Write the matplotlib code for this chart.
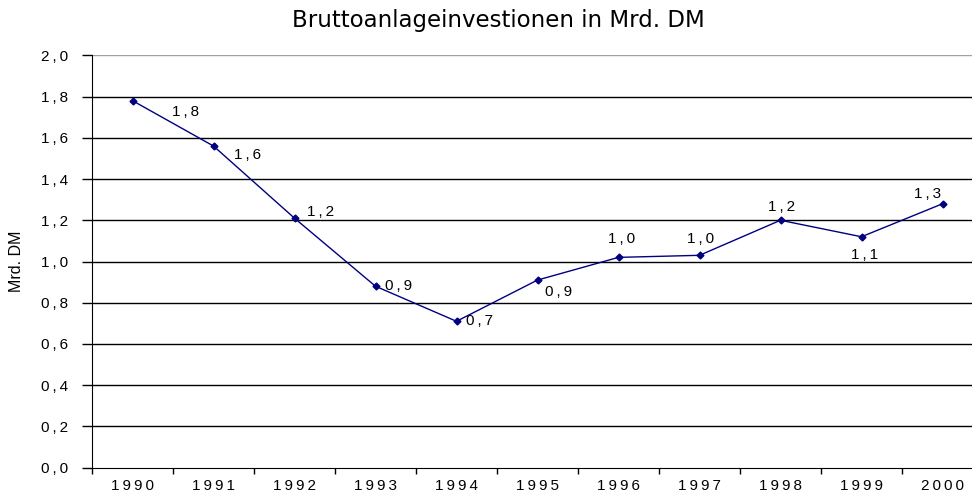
import matplotlib
matplotlib.use('Agg')
import matplotlib.pyplot as plt
import numpy as np

plt.rcParams['font.family'] = ['Liberation Sans', 'DejaVu Sans']

# Data
years = ['1990', '1991', '1992', '1993', '1994', '1995', '1996', '1997', '1998', '1999', '2000']
values = [1.78, 1.56, 1.21, 0.88, 0.71, 0.91, 1.02, 1.03, 1.20, 1.12, 1.28]
y_ticks = [0.0, 0.2, 0.4, 0.6, 0.8, 1.0, 1.2, 1.4, 1.6, 1.8, 2.0]

# label offsets (pixels) for each data label
label_offsets = [(53, -11), (34, -9), (26, 6), (23, 0), (23, 0), (21, -12),
                 (3, 18), (1, 16), (1, 13), (3, -18), (-15, 10)]


def spaced(s):
    # Excel-like letter spacing
    return '\u2009'.join(s)


fig = plt.figure(figsize=(9.72, 4.99), dpi=100)
ax = fig.add_axes([92 / 972, 31.3 / 499, 891 / 972, 412.4 / 499])

x = np.arange(len(years))
ax.plot(x, values, '-', color='#000080', linewidth=1, marker='D', markersize=3.5,
        markerfacecolor='#000080', markeredgecolor='#000080', zorder=3, clip_on=False)

for xi, v, (dx, dy) in zip(x, values, label_offsets):
    lbl = f'{v:.1f}'.replace('.', ',')
    ax.annotate(spaced(lbl), (xi, v), textcoords='offset pixels', xytext=(dx, dy),
                ha='center', va='center', fontsize=11, color='black')

ax.set_xlim(-0.5, len(years) - 0.5)
ax.set_ylim(0, 2.0)

# y axis
ax.set_yticks(y_ticks)
ax.set_yticklabels([spaced(f'{t:.1f}'.replace('.', ',')) for t in y_ticks], fontsize=11)
ax.tick_params(axis='y', direction='out', length=7, width=1, pad=10, color='black')
for t in y_ticks[1:]:
    ax.axhline(t, color='black' if t < 2.0 else '#a0a0a0', linewidth=1, zorder=1)

# x axis: ticks at boundaries, labels at centers
ax.set_xticks(np.arange(-0.5, len(years), 1.0))
ax.set_xticklabels([])
ax.set_xticks(x, minor=True)
ax.set_xticklabels([spaced(y) for y in years], minor=True, fontsize=11)
ax.tick_params(axis='x', which='major', direction='out', length=4, width=1, color='black')
ax.tick_params(axis='x', which='minor', length=0, pad=8)

for side in ['top', 'right']:
    ax.spines[side].set_visible(False)
ax.spines['left'].set_color('black')
ax.spines['bottom'].set_color('black')

ax.set_ylabel('Mrd. DM', fontsize=11.5)
ax.yaxis.set_label_coords(-68 / 891, 0.5)

fig.text(498 / 972, 1 - 21 / 499, 'Bruttoanlageinvestionen in Mrd. DM',
         ha='center', va='center', fontsize=16.5, family='DejaVu Sans')

fig.savefig('out.png', dpi=100)
